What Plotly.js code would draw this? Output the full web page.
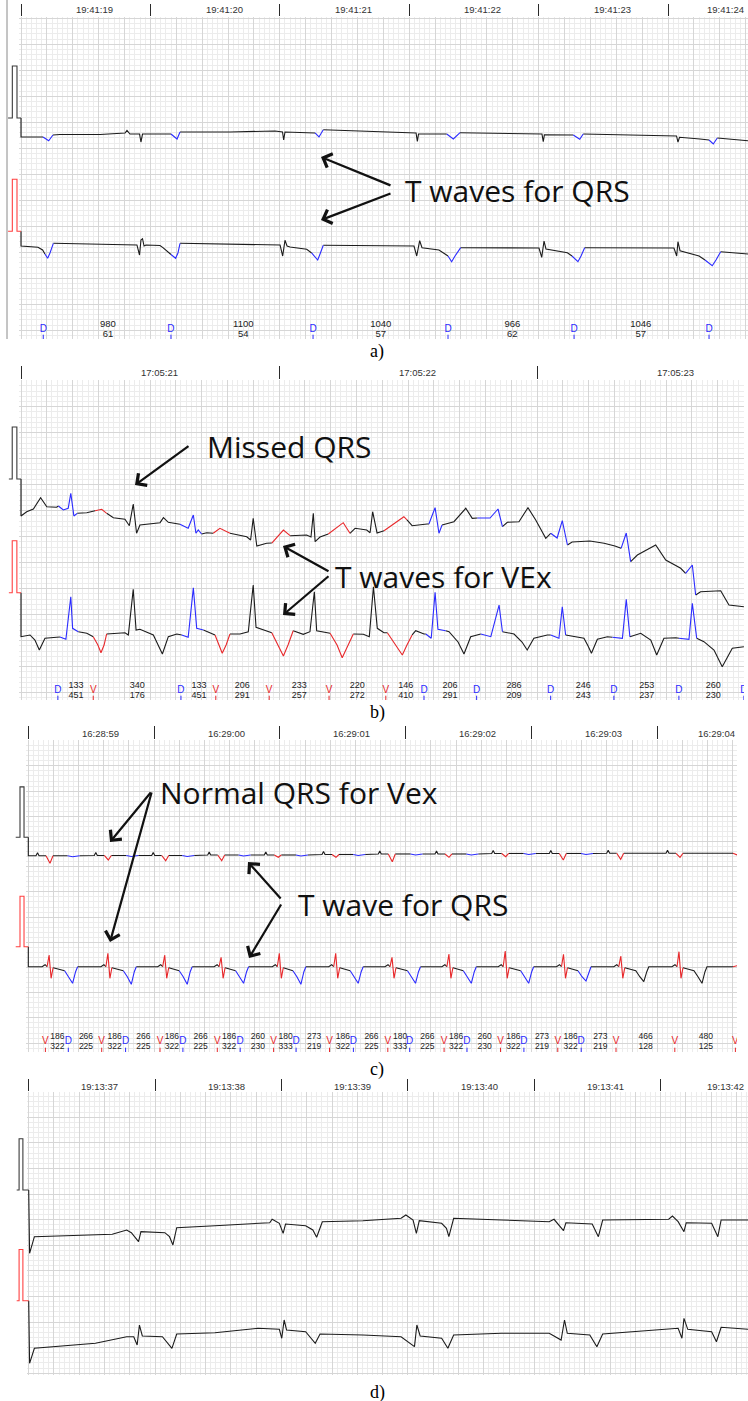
<!DOCTYPE html>
<html><head><meta charset="utf-8">
<script src="https://cdn.plot.ly/plotly-3.0.1.min.js"></script>
<style>html,body{margin:0;padding:0;background:#fff}#chart{width:748px;height:1401px}</style>
</head><body><div id="chart"></div>
<script>
// ================= DATA (time in s from first timestamp, amplitude in mV from calibration baseline) =================
const calV = [0, 0, 1, 1, 0, 0];

// ---- panel a ----
const aTimeLabels = ['19:41:19','19:41:20','19:41:21','19:41:22','19:41:23','19:41:24'];
const aCalT = [-0.100,-0.067,-0.067,-0.031,-0.031,0];
const aCh1 = [
 ['N',[0,0, 0,-0.365, 0.170,-0.365]],
 ['D',[0.170,-0.365, 0.214,-0.437, 0.247,-0.327]],
 ['N',[0.247,-0.327, 0.301,-0.317, 0.611,-0.317, 0.804,-0.288, 0.819,-0.240, 0.842,-0.308, 0.916,-0.308, 0.927,-0.462, 0.939,-0.308, 1.159,-0.308]],
 ['D',[1.159,-0.308, 1.206,-0.404, 1.229,-0.269]],
 ['N',[1.229,-0.269, 1.615,-0.269, 1.963,-0.25, 2.002,-0.269, 2.021,-0.269, 2.030,-0.423, 2.040,-0.269, 2.272,-0.288]],
 ['D',[2.272,-0.288, 2.303,-0.365, 2.336,-0.225]],
 ['N',[2.336,-0.225, 2.620,-0.25, 2.929,-0.269, 3.053,-0.288, 3.063,-0.448, 3.072,-0.308, 3.290,-0.308]],
 ['D',[3.290,-0.308, 3.341,-0.404, 3.393,-0.283]],
 ['N',[3.393,-0.283, 3.702,-0.298, 4.026,-0.308, 4.036,-0.456, 4.045,-0.321, 4.268,-0.327]],
 ['D',[4.268,-0.327, 4.318,-0.410, 4.345,-0.308]],
 ['N',[4.345,-0.308, 4.629,-0.327, 5.066,-0.346, 5.077,-0.462, 5.089,-0.371, 5.247,-0.404, 5.317,-0.423]],
 ['D',[5.317,-0.423, 5.350,-0.5, 5.381,-0.385]],
 ['N',[5.381,-0.385, 5.618,-0.437]]
];
const aCh2 = [
 ['N',[0,0, 0,-0.283, 0.131,-0.308, 0.167,-0.360, 0.185,-0.437]],
 ['D',[0.185,-0.437, 0.206,-0.519, 0.224,-0.417, 0.250,-0.231]],
 ['N',[0.250,-0.231, 0.456,-0.238, 0.804,-0.263, 0.896,-0.263, 0.916,-0.456, 0.927,-0.167, 0.939,-0.142, 0.951,-0.283, 0.966,-0.263, 1.074,-0.273, 1.097,-0.315, 1.138,-0.398, 1.159,-0.446]],
 ['D',[1.159,-0.446, 1.195,-0.519, 1.213,-0.417, 1.229,-0.231]],
 ['N',[1.229,-0.231, 1.615,-0.244, 2.002,-0.263, 2.022,-0.475, 2.040,-0.173, 2.056,-0.283, 2.079,-0.302, 2.208,-0.346, 2.246,-0.417]],
 ['D',[2.246,-0.417, 2.293,-0.552, 2.311,-0.437, 2.336,-0.269]],
 ['N',[2.336,-0.269, 2.728,-0.283, 3.037,-0.283, 3.058,-0.475, 3.081,-0.181, 3.099,-0.315, 3.230,-0.360, 3.300,-0.475]],
 ['D',[3.300,-0.475, 3.328,-0.585, 3.354,-0.475, 3.398,-0.315]],
 ['N',[3.398,-0.315, 3.702,-0.315, 4.003,-0.321, 4.024,-0.5, 4.042,-0.187, 4.057,-0.340, 4.222,-0.412, 4.258,-0.475]],
 ['D',[4.258,-0.475, 4.304,-0.585, 4.328,-0.475, 4.356,-0.315]],
 ['N',[4.356,-0.315, 4.706,-0.315, 5.046,-0.321, 5.067,-0.475, 5.077,-0.2, 5.093,-0.373, 5.240,-0.475, 5.286,-0.552]],
 ['D',[5.286,-0.552, 5.342,-0.662, 5.371,-0.552, 5.407,-0.392]],
 ['N',[5.407,-0.392, 5.618,-0.437]]
];
const aMarkT = [0.172,1.159,2.257,3.300,4.274,5.317];
const aMarkC = ['D','D','D','D','D','D'];
const aNumT = [0.672,1.718,2.780,3.797,4.789];
const aNumTop = ['980','1100','1040','966','1046'];
const aNumBot = ['61','54','57','62','57'];

// ---- panel b ----
const bTimeLabels = ['17:05:21','17:05:22','17:05:23'];
const bCalT = [-0.047,-0.034,-0.034,-0.016,-0.016,0];
const bCh1 = [
 ['N',[0,0, 0,-0.712, 0.022,-0.629, 0.048,-0.577, 0.076,-0.360, 0.100,-0.533, 0.138,-0.544, 0.145,-0.519]],
 ['D',[0.145,-0.519, 0.164,-0.596, 0.183,-0.563, 0.193,-0.275, 0.205,-0.712, 0.218,-0.660]],
 ['N',[0.218,-0.660, 0.255,-0.648, 0.287,-0.610]],
 ['V',[0.287,-0.610, 0.313,-0.583, 0.332,-0.660]],
 ['N',[0.332,-0.660, 0.358,-0.744, 0.403,-0.775, 0.420,-0.898, 0.435,-0.481, 0.448,-1.044, 0.461,-0.885, 0.500,-0.865, 0.539,-0.840, 0.552,-0.744, 0.571,-0.833, 0.616,-0.871]],
 ['D',[0.616,-0.871, 0.648,-0.948, 0.668,-0.692, 0.678,-1.044, 0.687,-0.981, 0.700,-1.058]],
 ['N',[0.700,-1.058, 0.720,-1.033, 0.745,-1.044]],
 ['V',[0.745,-1.044, 0.771,-0.948, 0.810,-1.044]],
 ['N',[0.810,-1.044, 0.849,-1.077, 0.875,-1.110, 0.890,-1.173, 0.900,-0.756, 0.914,-1.288, 0.952,-1.237, 0.972,-1.231]],
 ['V',[0.972,-1.231, 1.017,-0.981, 1.043,-1.090]],
 ['N',[1.043,-1.090, 1.107,-1.077, 1.124,-1.115, 1.133,-0.660, 1.140,-1.206, 1.159,-1.117, 1.191,-1.058]],
 ['V',[1.191,-1.058, 1.249,-0.840, 1.275,-1.044]],
 ['N',[1.275,-1.044, 1.295,-0.948, 1.340,-0.981, 1.353,-1.033, 1.363,-0.629, 1.380,-1.038, 1.407,-0.994]],
 ['V',[1.407,-0.994, 1.484,-0.725, 1.496,-0.788]],
 ['N',[1.496,-0.788, 1.516,-0.898, 1.574,-0.865, 1.581,-0.865]],
 ['D',[1.581,-0.865, 1.605,-0.552, 1.620,-1.044, 1.632,-0.885]],
 ['N',[1.632,-0.885, 1.678,-0.821, 1.724,-0.563, 1.749,-0.756, 1.769,-0.75]],
 ['D',[1.769,-0.75, 1.818,-0.75, 1.849,-0.577, 1.866,-0.917]],
 ['N',[1.866,-0.917, 1.885,-0.833, 1.930,-0.821, 1.965,-0.552, 1.995,-0.788, 2.034,-1.140, 2.053,-1.044]],
 ['D',[2.053,-1.044, 2.078,-1.135, 2.098,-0.802, 2.118,-1.269]],
 ['N',[2.118,-1.269, 2.136,-1.212, 2.205,-1.192, 2.260,-1.237, 2.302,-1.288, 2.326,-1.333]],
 ['D',[2.326,-1.333, 2.346,-1.038, 2.363,-1.590]],
 ['N',[2.363,-1.590, 2.389,-1.462, 2.460,-1.269, 2.499,-1.558, 2.557,-1.717, 2.576,-1.813]],
 ['D',[2.576,-1.813, 2.602,-1.654, 2.615,-2.231]],
 ['N',[2.615,-2.231, 2.634,-2.167, 2.712,-2.148, 2.744,-2.423, 2.802,-2.456]]
];
const bCh2 = [
 ['N',[0,0, 0,-0.846, 0.035,-0.813, 0.054,-0.910, 0.071,-1.102, 0.093,-0.877, 0.138,-0.858, 0.151,-0.852]],
 ['D',[0.151,-0.852, 0.174,-0.896, 0.193,-0.077, 0.200,-0.685, 0.222,-0.75]],
 ['N',[0.222,-0.75, 0.255,-0.781, 0.280,-0.846]],
 ['V',[0.280,-0.846, 0.298,-1.006, 0.310,-1.154, 0.322,-1.006, 0.332,-0.794]],
 ['N',[0.332,-0.794, 0.371,-0.781, 0.403,-0.769, 0.416,-0.813, 0.435,0.065, 0.446,-0.717, 0.461,-0.704, 0.513,-0.813, 0.531,-1.006, 0.548,-1.179, 0.571,-0.846, 0.604,-0.794, 0.623,-0.813]],
 ['D',[0.623,-0.813, 0.648,-0.858, 0.668,0.096, 0.681,-0.685, 0.707,-0.717]],
 ['N',[0.707,-0.717, 0.733,-0.769, 0.752,-0.813]],
 ['V',[0.752,-0.813, 0.767,-1.006, 0.780,-1.165, 0.795,-1.006, 0.810,-0.794]],
 ['N',[0.810,-0.794, 0.849,-0.794, 0.881,-0.75, 0.900,0.148, 0.911,-0.665, 0.952,-0.737, 0.972,-0.769]],
 ['V',[0.972,-0.769, 0.996,-1.006, 1.017,-1.217, 1.035,-1.006, 1.055,-0.731]],
 ['N',[1.055,-0.731, 1.094,-0.8, 1.120,-0.75, 1.137,0.019, 1.146,-0.731, 1.191,-0.781, 1.198,-0.781]],
 ['V',[1.198,-0.781, 1.225,-1.006, 1.245,-1.25, 1.267,-1.006, 1.288,-0.794]],
 ['N',[1.288,-0.794, 1.327,-0.8, 1.350,-0.846, 1.366,0.115, 1.381,-0.685, 1.407,-0.769, 1.420,-0.769]],
 ['V',[1.420,-0.769, 1.453,-1.006, 1.478,-1.198, 1.496,-1.006, 1.516,-0.813]],
 ['N',[1.516,-0.813, 1.530,-0.731, 1.562,-0.794, 1.569,-0.794]],
 ['D',[1.569,-0.794, 1.590,-0.877, 1.605,0.008, 1.616,-0.704, 1.646,-0.731]],
 ['N',[1.646,-0.731, 1.659,-0.75, 1.694,-0.948, 1.717,-1.179, 1.743,-0.846, 1.775,-0.794, 1.782,-0.794]],
 ['D',[1.782,-0.794, 1.821,-0.846, 1.853,-0.237, 1.866,-0.75]],
 ['N',[1.866,-0.75, 1.911,-0.794, 1.942,-0.948, 1.962,-1.102, 1.988,-0.877, 2.040,-0.813, 2.053,-0.813]],
 ['D',[2.053,-0.813, 2.085,-0.877, 2.098,-0.269, 2.111,-0.813]],
 ['N',[2.111,-0.813, 2.143,-0.846, 2.182,-0.877, 2.198,-1.025, 2.211,-1.165, 2.234,-0.896, 2.273,-0.846, 2.292,-0.858]],
 ['D',[2.292,-0.858, 2.331,-0.877, 2.346,-0.127, 2.360,-0.846]],
 ['N',[2.360,-0.846, 2.402,-0.781, 2.441,-0.910, 2.464,-1.198, 2.492,-0.877, 2.538,-0.865, 2.550,-0.877]],
 ['D',[2.550,-0.877, 2.589,-0.896, 2.602,-0.204, 2.619,-0.877]],
 ['N',[2.619,-0.877, 2.647,-0.942, 2.686,-1.102, 2.718,-1.423, 2.757,-1.069, 2.802,-1.038]]
];
const bMarkT = [0.143,0.280,0.620,0.755,0.962,1.194,1.414,1.562,1.766,2.053,2.298,2.550,2.802];
const bMarkC = ['D','V','D','V','V','V','V','D','D','D','D','D','D'];
const bNumT = [0.213,0.451,0.690,0.858,1.079,1.303,1.491,1.663,1.911,2.179,2.425,2.683];
const bNumTop = ['133','340','133','206','233','220','146','206','286','246','253','260'];
const bNumBot = ['451','176','451','291','257','272','410','291','209','243','237','230'];

// ---- panel c ----
const cTimeLabels = ['16:28:59','16:29:00','16:29:01','16:29:02','16:29:03','16:29:04'];
const cCalT = [-0.100,-0.066,-0.066,-0.034,-0.034,0];
const cCh1 = [
 ['N',[0,0, 0,-0.365, 0.0612,-0.365, 0.0731,-0.306, 0.0851,-0.365, 0.1407,-0.365]],
 ['V',[0.1407,-0.365, 0.1725,-0.516, 0.1963,-0.365]],
 ['N',[0.1963,-0.365, 0.3124,-0.365]],
 ['D',[0.3124,-0.365, 0.3521,-0.385, 0.4078,-0.365]],
 ['N',[0.4078,-0.365, 0.5246,-0.361, 0.5366,-0.302, 0.5485,-0.361, 0.6041,-0.361]],
 ['V',[0.6041,-0.361, 0.6359,-0.450, 0.6598,-0.361]],
 ['N',[0.6598,-0.361, 0.7790,-0.361]],
 ['D',[0.7790,-0.361, 0.8188,-0.381, 0.8744,-0.361]],
 ['N',[0.8744,-0.361, 0.9809,-0.361, 0.9929,-0.302, 1.0048,-0.361, 1.0604,-0.361]],
 ['V',[1.0604,-0.361, 1.0922,-0.464, 1.1161,-0.361]],
 ['N',[1.1161,-0.361, 1.2234,-0.361]],
 ['D',[1.2234,-0.361, 1.2631,-0.381, 1.3188,-0.361]],
 ['N',[1.3188,-0.361, 1.4261,-0.351, 1.4380,-0.292, 1.4499,-0.351, 1.5056,-0.351]],
 ['V',[1.5056,-0.351, 1.5374,-0.464, 1.5612,-0.351]],
 ['N',[1.5612,-0.351, 1.6717,-0.351]],
 ['D',[1.6717,-0.351, 1.7114,-0.371, 1.7671,-0.351]],
 ['N',[1.7671,-0.351, 1.8760,-0.351, 1.8879,-0.292, 1.8998,-0.351, 1.9555,-0.351]],
 ['V',[1.9555,-0.351, 1.9873,-0.397, 2.0111,-0.351]],
 ['N',[2.0111,-0.351, 2.1271,-0.351]],
 ['D',[2.1271,-0.351, 2.1669,-0.371, 2.2225,-0.351]],
 ['N',[2.2225,-0.351, 2.3346,-0.341, 2.3466,-0.282, 2.3585,-0.341, 2.4141,-0.341]],
 ['V',[2.4141,-0.341, 2.4459,-0.397, 2.4698,-0.341]],
 ['N',[2.4698,-0.341, 2.5827,-0.341]],
 ['D',[2.5827,-0.341, 2.6224,-0.361, 2.6781,-0.341]],
 ['N',[2.6781,-0.341, 2.7822,-0.331, 2.7941,-0.272, 2.8060,-0.331, 2.8617,-0.331]],
 ['V',[2.8617,-0.331, 2.8935,-0.484, 2.9173,-0.331]],
 ['N',[2.9173,-0.331, 3.0382,-0.331]],
 ['D',[3.0382,-0.331, 3.0779,-0.351, 3.1336,-0.331]],
 ['N',[3.1336,-0.331, 3.2329,-0.331, 3.2448,-0.272, 3.2567,-0.331, 3.3124,-0.331]],
 ['V',[3.3124,-0.331, 3.3442,-0.397, 3.3680,-0.331]],
 ['N',[3.3680,-0.331, 3.4817,-0.331]],
 ['D',[3.4817,-0.331, 3.5215,-0.351, 3.5771,-0.331]],
 ['N',[3.5771,-0.331, 3.6836,-0.321, 3.6955,-0.262, 3.7074,-0.321, 3.7631,-0.321]],
 ['V',[3.7631,-0.321, 3.7949,-0.385, 3.8187,-0.321]],
 ['N',[3.8187,-0.321, 3.9380,-0.321]],
 ['D',[3.9380,-0.321, 3.9777,-0.341, 4.0334,-0.321]],
 ['N',[4.0334,-0.321, 4.1415,-0.321, 4.1534,-0.262, 4.1653,-0.321, 4.2210,-0.321]],
 ['V',[4.2210,-0.321, 4.2528,-0.450, 4.2766,-0.321]],
 ['N',[4.2766,-0.321, 4.3935,-0.321]],
 ['D',[4.3935,-0.321, 4.4333,-0.341, 4.4889,-0.321]],
 ['N',[4.4889,-0.321, 4.5977,-0.317, 4.6097,-0.258, 4.6216,-0.317, 4.6772,-0.317]],
 ['V',[4.6772,-0.317, 4.7090,-0.437, 4.7329,-0.317]],
 ['N',[4.7329,-0.317, 5.0692,-0.317, 5.0811,-0.258, 5.0930,-0.317, 5.1487,-0.317]],
 ['V',[5.1487,-0.317, 5.1805,-0.397, 5.2043,-0.317]],
 ['N',[5.2043,-0.317, 5.6017,-0.317]],
 ['V',[5.6017,-0.317, 5.634,-0.35]]
];
const cCh2 = [
 ['N',[0,0, 0,-0.397, 0.1097,-0.397, 0.1335,-0.357, 0.1494,-0.397]],
 ['V',[0.1494,-0.397, 0.1653,-0.165, 0.1812,-0.627, 0.1971,-0.417]],
 ['N',[0.1971,-0.417, 0.2886,-0.476]],
 ['D',[0.2886,-0.476, 0.3204,-0.595, 0.3521,-0.726, 0.3760,-0.496, 0.3919,-0.397]],
 ['N',[0.3919,-0.397, 0.5771,-0.397, 0.6010,-0.357, 0.6168,-0.397]],
 ['V',[0.6168,-0.397, 0.6327,-0.131, 0.6486,-0.627, 0.6645,-0.417]],
 ['N',[0.6645,-0.417, 0.7552,-0.476]],
 ['D',[0.7552,-0.476, 0.7870,-0.595, 0.8188,-0.746, 0.8426,-0.496, 0.8585,-0.397]],
 ['N',[0.8585,-0.397, 1.0286,-0.397, 1.0525,-0.357, 1.0684,-0.397]],
 ['V',[1.0684,-0.397, 1.0843,-0.165, 1.1002,-0.627, 1.1161,-0.417]],
 ['N',[1.1161,-0.417, 1.1995,-0.476]],
 ['D',[1.1995,-0.476, 1.2313,-0.595, 1.2631,-0.746, 1.2870,-0.496, 1.3029,-0.397]],
 ['N',[1.3029,-0.397, 1.4770,-0.397, 1.5008,-0.357, 1.5167,-0.397]],
 ['V',[1.5167,-0.397, 1.5326,-0.210, 1.5485,-0.627, 1.5644,-0.417]],
 ['N',[1.5644,-0.417, 1.6479,-0.476]],
 ['D',[1.6479,-0.476, 1.6796,-0.595, 1.7114,-0.726, 1.7353,-0.496, 1.7512,-0.397]],
 ['N',[1.7512,-0.397, 1.9396,-0.397, 1.9634,-0.357, 1.9793,-0.397]],
 ['V',[1.9793,-0.397, 1.9952,-0.131, 2.0111,-0.627, 2.0270,-0.417]],
 ['N',[2.0270,-0.417, 2.1033,-0.476]],
 ['D',[2.1033,-0.476, 2.1351,-0.595, 2.1669,-0.746, 2.1907,-0.496, 2.2066,-0.397]],
 ['N',[2.2066,-0.397, 2.3879,-0.397, 2.4118,-0.357, 2.4277,-0.397]],
 ['V',[2.4277,-0.397, 2.4436,-0.131, 2.4595,-0.627, 2.4754,-0.417]],
 ['N',[2.4754,-0.417, 2.5588,-0.476]],
 ['D',[2.5588,-0.476, 2.5906,-0.595, 2.6224,-0.726, 2.6462,-0.496, 2.6621,-0.397]],
 ['N',[2.6621,-0.397, 2.8354,-0.397, 2.8593,-0.357, 2.8752,-0.397]],
 ['V',[2.8752,-0.397, 2.8911,-0.210, 2.9070,-0.627, 2.9229,-0.417]],
 ['N',[2.9229,-0.417, 3.0143,-0.476]],
 ['D',[3.0143,-0.476, 3.0461,-0.595, 3.0779,-0.726, 3.1018,-0.496, 3.1177,-0.397]],
 ['N',[3.1177,-0.397, 3.2877,-0.397, 3.3116,-0.357, 3.3275,-0.397]],
 ['V',[3.3275,-0.397, 3.3434,-0.145, 3.3593,-0.627, 3.3752,-0.417]],
 ['N',[3.3752,-0.417, 3.4579,-0.476]],
 ['D',[3.4579,-0.476, 3.4897,-0.595, 3.5215,-0.726, 3.5453,-0.496, 3.5612,-0.397]],
 ['N',[3.5612,-0.397, 3.7353,-0.397, 3.7591,-0.357, 3.7750,-0.397]],
 ['V',[3.7750,-0.397, 3.7909,-0.085, 3.8068,-0.627, 3.8227,-0.417]],
 ['N',[3.8227,-0.417, 3.9141,-0.476]],
 ['D',[3.9141,-0.476, 3.9459,-0.595, 3.9777,-0.726, 4.0016,-0.496, 4.0175,-0.397]],
 ['N',[4.0175,-0.397, 4.1987,-0.397, 4.2225,-0.357, 4.2384,-0.397]],
 ['V',[4.2384,-0.397, 4.2543,-0.150, 4.2702,-0.627, 4.2861,-0.417]],
 ['N',[4.2861,-0.417, 4.3696,-0.476]],
 ['D',[4.3696,-0.476, 4.4014,-0.595, 4.4333,-0.681, 4.4571,-0.496, 4.4730,-0.397]],
 ['N',[4.4730,-0.397, 4.6541,-0.397, 4.6780,-0.357, 4.6939,-0.397]],
 ['V',[4.6939,-0.397, 4.7098,-0.185, 4.7257,-0.627, 4.7416,-0.417]],
 ['N',[4.7416,-0.417, 4.8291,-0.476, 4.8609,-0.595, 4.8927,-0.694, 4.9165,-0.496, 4.9324,-0.397, 5.1168,-0.397, 5.1406,-0.357, 5.1565,-0.397]],
 ['V',[5.1565,-0.397, 5.1724,-0.099, 5.1883,-0.627, 5.2043,-0.417]],
 ['N',[5.2043,-0.417, 5.2916,-0.476, 5.3234,-0.595, 5.3553,-0.726, 5.3791,-0.496, 5.3950,-0.397, 5.6017,-0.397]],
 ['V',[5.6017,-0.397, 5.634,-0.377]]
];
const cMarkT = [0.1359,0.3180,0.5835,0.7734,1.0469,1.2289,1.5024,1.6844,1.9499,2.1288,2.3943,2.5843,2.8577,3.0317,3.3052,3.4872,3.7535,3.9396,4.2090,4.3951,4.6717,5.1391,5.6208];
const cMarkC = ['V','D','V','D','V','D','V','D','V','D','V','D','V','D','V','D','V','D','V','D','V','V','V'];
const cNumT = [0.2305,0.4587,0.6860,0.9142,1.1415,1.3696,1.5970,1.8251,2.0453,2.2726,2.5008,2.7281,2.9563,3.1725,3.4006,3.6280,3.8561,4.0835,4.3116,4.5469,4.9077,5.3855];
const cNumTop = ['186','266','186','266','186','266','186','260','180','273','186','266','180','266','186','260','186','273','186','273','466','480'];
const cNumBot = ['322','225','322','225','322','225','322','230','333','219','322','225','333','225','322','230','322','219','322','219','128','125'];

// ---- panel d ----
const dTimeLabels = ['19:13:37','19:13:38','19:13:39','19:13:40','19:13:41','19:13:42'];
const dCalT = [-0.095,-0.076,-0.076,-0.046,-0.046,0];
const dCh1 = [
 ['N',[0,0, 0.007,-1.236, 0.045,-0.912, 0.339,-0.893, 0.661,-0.865, 0.775,-0.781, 0.812,-0.834, 0.869,-1.010, 0.888,-0.814, 1.077,-0.834, 1.114,-0.912, 1.141,-1.074, 1.171,-0.736, 1.473,-0.697, 1.737,-0.664, 1.907,-0.639, 1.926,-0.572, 1.983,-0.650, 2.013,-0.846, 2.032,-0.664, 2.191,-0.697, 2.248,-0.781, 2.278,-0.924, 2.323,-0.619, 2.644,-0.600, 2.946,-0.553, 2.984,-0.488, 3.041,-0.586, 3.067,-0.846, 3.090,-0.600, 3.267,-0.650, 3.305,-0.748, 3.324,-0.912, 3.362,-0.553, 3.740,-0.586, 4.118,-0.619, 4.156,-0.572, 4.231,-0.795, 4.250,-0.639, 4.458,-0.664, 4.507,-0.912, 4.541,-0.586, 5.063,-0.572, 5.093,-0.508, 5.138,-0.619, 5.184,-0.814, 5.202,-0.639, 5.403,-0.650, 5.452,-0.912, 5.478,-0.586, 5.691,-0.586]]
];
const dCh2 = [
 ['N',[0,0, 0.007,-1.223, 0.045,-0.930, 0.339,-0.865, 0.528,-0.832, 0.775,-0.703, 0.831,-0.703, 0.858,-0.865, 0.876,-0.475, 0.899,-0.689, 1.058,-0.703, 1.133,-0.930, 1.171,-0.650, 1.473,-0.625, 1.813,-0.539, 1.983,-0.559, 2.002,-0.734, 2.021,-0.377, 2.040,-0.572, 2.191,-0.605, 2.267,-0.832, 2.305,-0.650, 2.644,-0.670, 2.946,-0.703, 3.052,-0.898, 3.071,-0.475, 3.097,-0.689, 3.267,-0.734, 3.316,-0.930, 3.362,-0.670, 3.740,-0.637, 4.118,-0.637, 4.212,-0.768, 4.239,-0.377, 4.261,-0.637, 4.439,-0.670, 4.495,-0.898, 4.541,-0.650, 5.063,-0.559, 5.138,-0.539, 5.168,-0.734, 5.184,-0.344, 5.214,-0.559, 5.403,-0.605, 5.441,-0.801, 5.478,-0.520, 5.691,-0.559]]
];

// ================= LAYOUT CONSTANTS (pixel geometry of the figure) =================
const W = 748, H = 1401;
const COL = {N:'#1c1c1c', D:'#2b2bff', V:'#e8282b'};
const CAL_COL = ['#3a3a3a', '#ff4040'];
const MAJOR = '#d6d6d6', MINOR = '#ececec';
const SANS = 'Arial, "Liberation Sans", sans-serif';
const NARROW = '"Liberation Sans Narrow", "Arial Narrow", Arial, "Liberation Sans", sans-serif';

const PANELS = [
 {cap:'a)', left:7, x0:21, right:748, top:17, bottom:339, pps:129.4, ppmv:52, base1:118, base2:231.3, hMajor:122.3, xMajor:0.2, xMinor:0.04, tickTop:5, lblY:10, lblShift:9, lblFont:SANS, numTopY:325, numBotY:335, markY:329, capY:351, numFont:SANS, numSize:9.5,
  labels:aTimeLabels, calT:aCalT, ch1:aCh1, ch2:aCh2, markT:aMarkT, markC:aMarkC, numT:aNumT, numTop:aNumTop, numBot:aNumBot},
 {cap:'b)', left:7, x0:21, right:744, top:380, bottom:700, pps:258, ppmv:52, base1:479, base2:592.7, hMajor:484.7, xMajor:0.1, xMinor:0.02, tickTop:367, lblY:373, lblShift:9, lblFont:SANS, numTopY:685.7, numBotY:695.7, markY:690, capY:712, numFont:SANS, numSize:9,
  labels:bTimeLabels, calT:bCalT, ch1:bCh1, ch2:bCh2, markT:bMarkT, markC:bMarkC, numT:bNumT, numTop:bNumTop, numBot:bNumBot},
 {cap:'c)', left:14, x0:28.3, right:737, top:740, bottom:1052, pps:125.8, ppmv:50.4, base1:837.3, base2:946.7, hMajor:841.5, xMajor:0.2, xMinor:0.04, tickTop:727, lblY:733, lblShift:9, lblFont:SANS, numTopY:1037.3, numBotY:1047.3, markY:1041.7, capY:1069, numFont:NARROW, numSize:8.5,
  labels:cTimeLabels, calT:cCalT, ch1:cCh1, ch2:cCh2, markT:cMarkT, markC:cMarkC, numT:cNumT, numTop:cNumTop, numBot:cNumBot},
 {cap:'d)', left:14, x0:28.7, right:748, top:1092, bottom:1375, pps:126.4, ppmv:51.2, base1:1190, base2:1300.7, hMajor:1194, xMajor:0.2, xMinor:0.04, tickTop:1080, lblY:1086, lblShift:8, lblFont:NARROW, capY:1392,
  labels:dTimeLabels, calT:dCalT, ch1:dCh1, ch2:dCh2}
];

const layout = {width:W, height:H, margin:{l:0,r:0,t:0,b:0,pad:0}, paper_bgcolor:'#fff', plot_bgcolor:'rgba(0,0,0,0)',
  showlegend:false, shapes:[], annotations:[], hovermode:false};
const traces = [];
const xr = n => n===1?'x':'x'+n, yr = n => n===1?'y':'y'+n;
const xa = n => n===1?'xaxis':'xaxis'+n, ya = n => n===1?'yaxis':'yaxis'+n;
const BARE = {showgrid:false, showticklabels:false, ticks:'', zeroline:false, showline:false, fixedrange:true};

function runsToTraces(runs, xref, yref){
  const by = {};
  runs.forEach(([cls, flat]) => {
    const o = by[cls] || (by[cls] = {x:[], y:[]});
    if (o.x.length){ o.x.push(null); o.y.push(null); }
    for (let k=0; k<flat.length; k+=2){ o.x.push(flat[k]); o.y.push(flat[k+1]); }
  });
  return ['N','D','V'].filter(k => by[k]).map(k => ({type:'scatter', mode:'lines', x:by[k].x, y:by[k].y,
    xaxis:xref, yaxis:yref, line:{color:COL[k], width:1.1}, hoverinfo:'skip', connectgaps:false}));
}

PANELS.forEach((P, i) => {
  const nx = 2*i+1, nt = 2*i+2;          // main grid axis, tick overlay axis
  const nc = 9 + i, nc2 = 13 + i;        // calibration strip axes
  const X = xr(nx), Y1 = yr(nx), Y2 = yr(nt);
  const pxx = px => (px - P.x0)/P.pps;
  const v1 = py => (P.base1 - py)/P.ppmv;
  const y1Range = [v1(P.bottom), v1(P.top)];
  const y2Range = [(P.base2-P.bottom)/P.ppmv, (P.base2-P.top)/P.ppmv];
  const xRange = [pxx(P.x0 - 2), pxx(P.right)];
  const dom = [(P.x0 - 2)/W, P.right/W];
  const ydom = [1 - P.bottom/H, 1 - P.top/H];

  layout[xa(nx)] = Object.assign({}, BARE, {domain:dom, range:xRange, anchor:Y1, showgrid:true, gridcolor:MAJOR, gridwidth:1,
    tickmode:'linear', tick0:0, dtick:P.xMajor,
    minor:{tickmode:'linear', tick0:0, dtick:P.xMinor, showgrid:true, gridcolor:MINOR, gridwidth:1}});
  layout[xa(nt)] = Object.assign({}, BARE, {domain:dom, overlaying:X, side:'top', anchor:Y1, range:xRange, tickmode:'array',
    tickvals:P.labels.map((_, j) => j), ticks:'outside', ticklen:P.top - P.tickTop, tickcolor:'#2a2a2a', tickwidth:1});
  layout[ya(nx)] = Object.assign({}, BARE, {domain:ydom, range:y1Range, anchor:X, showgrid:true, gridcolor:MAJOR, gridwidth:1,
    tickmode:'linear', tick0:v1(P.hMajor), dtick:0.5,
    minor:{tickmode:'linear', tick0:v1(P.hMajor), dtick:0.1, showgrid:true, gridcolor:MINOR, gridwidth:1}});
  layout[ya(nt)] = Object.assign({}, BARE, {domain:ydom, overlaying:Y1, anchor:X, range:y2Range});

  // calibration strip (no grid)
  layout[xa(nc)] = Object.assign({}, BARE, {domain:[P.left/W, (P.x0 + 1)/W], range:[pxx(P.left), pxx(P.x0 + 1)], anchor:yr(nc)});
  layout[ya(nc)] = Object.assign({}, BARE, {domain:ydom, range:y1Range, anchor:xr(nc)});
  layout[ya(nc2)] = Object.assign({}, BARE, {domain:ydom, range:y2Range, anchor:xr(nc), overlaying:yr(nc)});
  traces.push({type:'scatter', mode:'lines', x:P.calT, y:calV, xaxis:xr(nc), yaxis:yr(nc), line:{color:CAL_COL[0], width:1.1}, hoverinfo:'skip'});
  traces.push({type:'scatter', mode:'lines', x:P.calT, y:calV, xaxis:xr(nc), yaxis:yr(nc2), line:{color:CAL_COL[1], width:1.1}, hoverinfo:'skip'});

  // dummy point so the tick overlay axis is laid out
  traces.push({type:'scatter', mode:'markers', x:[0], y:[y1Range[0] - 10], xaxis:xr(nt), yaxis:Y1, marker:{size:1, opacity:0}, hoverinfo:'skip'});

  // ECG channels
  runsToTraces(P.ch1, X, Y1).forEach(t => traces.push(t));
  runsToTraces(P.ch2, X, Y2).forEach(t => traces.push(t));

  // time stamps (centred in each one-second interval; last one kept inside the page)
  P.labels.forEach((lab, j) => {
    const last = j === P.labels.length - 1 && i !== 1;
    layout.annotations.push({xref:last ? 'paper' : X, yref:'paper',
      x:last ? (Math.min(P.right, 746))/W : j + 0.5 + P.lblShift/P.pps, y:1 - P.lblY/H, text:lab,
      showarrow:false, xanchor:last ? 'right' : 'center', yanchor:'middle', font:{family:P.lblFont, size:9.5, color:'#333'}});
  });

  // beat annotation rows
  if (P.markT){
    const mc = P.markC.map(c => COL[c]);
    traces.push({type:'scatter', mode:'text', x:P.markT, y:P.markT.map(() => v1(P.markY)), text:P.markC,
      textposition:'middle center', textfont:{family:SANS, size:10, color:mc}, xaxis:X, yaxis:Y1, hoverinfo:'skip'});
    traces.push({type:'scatter', mode:'markers', x:P.markT, y:P.markT.map(() => v1(P.bottom - 1.5)),
      marker:{symbol:'line-ns', size:4, line:{width:1, color:mc}}, xaxis:X, yaxis:Y1, hoverinfo:'skip'});
    traces.push({type:'scatter', mode:'text', x:P.numT, y:P.numT.map(() => v1(P.numTopY)), text:P.numTop,
      textposition:'middle center', textfont:{family:P.numFont, size:P.numSize, color:'#222'}, xaxis:X, yaxis:Y1, hoverinfo:'skip'});
    traces.push({type:'scatter', mode:'text', x:P.numT, y:P.numT.map(() => v1(P.numBotY)), text:P.numBot,
      textposition:'middle center', textfont:{family:P.numFont, size:P.numSize, color:'#222'}, xaxis:X, yaxis:Y1, hoverinfo:'skip'});
  }

  // caption
  layout.annotations.push({xref:'paper', yref:'paper', x:377/W, y:1 - P.capY/H, text:P.cap, showarrow:false,
    xanchor:'center', yanchor:'middle', font:{family:'"Liberation Serif", "Times New Roman", serif', size:18, color:'#000'}});
});

// left border line of panel a
layout.shapes.push({type:'line', xref:'paper', yref:'paper', x0:7/W, x1:7/W, y0:1 - 339/H, y1:1, line:{color:'#8a8a8a', width:1}});

// call-out texts and arrows
const CALLOUT_FONT = {family:'"Open Sans", "Noto Sans", sans-serif', size:30, color:'#111'};
const callouts = [
  {text:'T waves for QRS', x:403, y:190},
  {text:'Missed QRS', x:205, y:446},
  {text:'T waves for VEx', x:333, y:576},
  {text:'Normal QRS for Vex', x:158, y:792},
  {text:'T wave for QRS', x:296, y:905}
];
callouts.forEach(c => layout.annotations.push({xref:'paper', yref:'paper', x:c.x/W, y:1 - c.y/H, text:c.text,
  showarrow:false, xanchor:'left', yanchor:'middle', font:CALLOUT_FONT}));
const arrows = [
  [392,186,321,157],[392,193,321,220],
  [190,445,135,485],
  [330,572,283,546],[330,575,283,615],
  [152,791,110,842],[152,791,110,942],
  [282,900,248,862],[282,903,249,958]
];
arrows.forEach(([tx,ty,hx,hy]) => layout.annotations.push({xref:'paper', yref:'paper', x:hx/W, y:1 - hy/H,
  ax:tx-hx, ay:ty-hy, axref:'pixel', ayref:'pixel', text:'', showarrow:true, arrowhead:4, arrowsize:1.3,
  arrowwidth:2.2, arrowcolor:'#111', standoff:0}));

Plotly.newPlot('chart', traces, layout, {staticPlot:true, displayModeBar:false});
</script>
</body></html>
